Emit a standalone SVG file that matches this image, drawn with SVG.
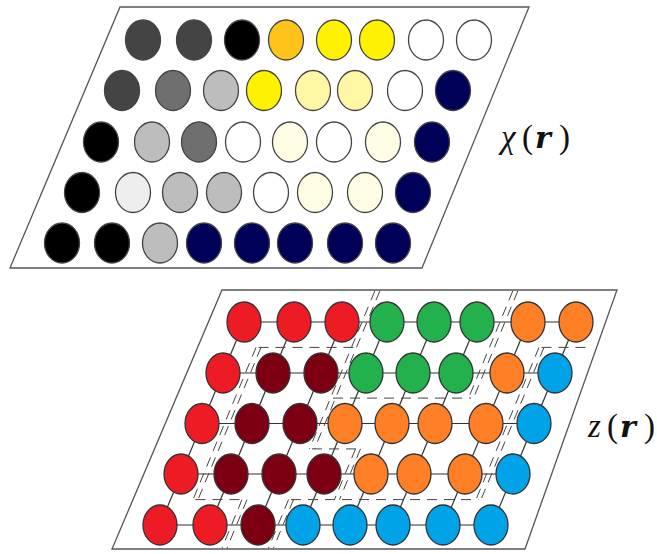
<svg xmlns="http://www.w3.org/2000/svg" width="657" height="554" viewBox="0 0 657 554">
<style>
.frame{fill:#fff;stroke:#555;stroke-width:1.3}
.c{stroke:#333;stroke-width:1.3}
.t{stroke:#444;stroke-width:1.3}
.lat{stroke:#333;stroke-width:1.2;fill:none}
.dash{stroke:#444;stroke-width:1;stroke-dasharray:10 7;fill:none}
.dg{fill:#444}.bk{fill:#000}.or{fill:#FFC31A}.ye{fill:#FFF200}.ly{fill:#FFF7A6}.vly{fill:#FFFDE3}
.wh{fill:#fff}.nv{fill:#000058}.mg{fill:#6F6F6F}.lg{fill:#BDBDBD}.vlg{fill:#EEEEEE}
.rd{fill:#ED1C24}.dr{fill:#7D0012}.gr{fill:#22B14C}.og{fill:#FF7F27}.bl{fill:#00A2E8}
.lbl{font-family:"Liberation Serif",serif;font-size:33px;fill:#111}
.br{font-family:"DejaVu Serif","Liberation Serif",serif;font-weight:bold;font-style:italic;font-size:30px}
</style>
<rect width="657" height="554" fill="#fff"/>
<g id="frame-top"><polygon class="frame" points="120,7 529,7 422,268 10,268"/></g>
<g id="frame-bottom"><polygon class="frame" points="222,290 617,290 525,549 112,549"/></g>

<g id="connectors">
<g id="lattice">
<line class="lat" x1="244" y1="322" x2="576" y2="322"/>
<line class="lat" x1="223" y1="373" x2="555" y2="373"/>
<line class="lat" x1="202" y1="423.5" x2="534" y2="423.5"/>
<line class="lat" x1="181" y1="474" x2="513" y2="474"/>
<line class="lat" x1="160" y1="525" x2="492" y2="525"/>
<line class="lat" x1="244" y1="322" x2="160" y2="525"/>
<line class="lat" x1="294" y1="322" x2="210" y2="525"/>
<line class="lat" x1="342" y1="322" x2="258" y2="525"/>
<line class="lat" x1="387" y1="322" x2="303" y2="525"/>
<line class="lat" x1="434" y1="322" x2="350" y2="525"/>
<line class="lat" x1="477" y1="322" x2="393" y2="525"/>
<line class="lat" x1="528" y1="322" x2="444" y2="525"/>
<line class="lat" x1="576" y1="322" x2="492" y2="525"/>
</g>
<g id="boundaries">
<line class="dash" x1="374.8" y1="291" x2="309.5" y2="448.9"/>
<line class="dash" x1="379.8" y1="291" x2="314.5" y2="448.9"/>
<line class="dash" x1="355.5" y1="448.9" x2="334.5" y2="499.6"/>
<line class="dash" x1="360.5" y1="448.9" x2="339.5" y2="499.6"/>
<line class="dash" x1="288.5" y1="499.6" x2="268.5" y2="548"/>
<line class="dash" x1="293.5" y1="499.6" x2="273.5" y2="548"/>
<line class="dash" x1="512.8" y1="291" x2="468.5" y2="398.1"/>
<line class="dash" x1="517.8" y1="291" x2="473.5" y2="398.1"/>
<line class="dash" x1="539" y1="347.4" x2="476" y2="499.6"/>
<line class="dash" x1="544" y1="347.4" x2="481" y2="499.6"/>
<line class="dash" x1="256" y1="347.4" x2="193" y2="499.6"/>
<line class="dash" x1="261" y1="347.4" x2="198" y2="499.6"/>
<line class="dash" x1="242" y1="499.6" x2="222" y2="548"/>
<line class="dash" x1="247" y1="499.6" x2="227" y2="548"/>
<line class="dash" x1="258.5" y1="347.4" x2="354" y2="347.4"/>
<line class="dash" x1="541.5" y1="347.4" x2="591" y2="347.4"/>
<line class="dash" x1="333" y1="398.1" x2="471" y2="398.1"/>
<line class="dash" x1="312" y1="448.9" x2="358" y2="448.9"/>
<line class="dash" x1="195.5" y1="499.6" x2="244.5" y2="499.6"/>
<line class="dash" x1="291" y1="499.6" x2="478.5" y2="499.6"/>
</g>
</g>

<g id="chi-nodes">
<g id="t00"><ellipse class="t dg" cx="143" cy="40" rx="17.5" ry="20"/></g>
<g id="t01"><ellipse class="t dg" cx="194" cy="40" rx="17.5" ry="20"/></g>
<g id="t02"><ellipse class="t bk" cx="242" cy="40" rx="17.5" ry="20"/></g>
<g id="t03"><ellipse class="t or" cx="286" cy="40" rx="17.5" ry="20"/></g>
<g id="t04"><ellipse class="t ye" cx="334" cy="40" rx="17.5" ry="20"/></g>
<g id="t05"><ellipse class="t ye" cx="377" cy="40" rx="17.5" ry="20"/></g>
<g id="t06"><ellipse class="t wh" cx="426" cy="40" rx="17.5" ry="20"/></g>
<g id="t07"><ellipse class="t wh" cx="474" cy="40" rx="17.5" ry="20"/></g>
<g id="t10"><ellipse class="t dg" cx="122" cy="90.5" rx="17.5" ry="20"/></g>
<g id="t11"><ellipse class="t mg" cx="173" cy="90.5" rx="17.5" ry="20"/></g>
<g id="t12"><ellipse class="t lg" cx="221" cy="90.5" rx="17.5" ry="20"/></g>
<g id="t13"><ellipse class="t ye" cx="264" cy="90.5" rx="17.5" ry="20"/></g>
<g id="t14"><ellipse class="t ly" cx="313" cy="90.5" rx="17.5" ry="20"/></g>
<g id="t15"><ellipse class="t ly" cx="355" cy="90.5" rx="17.5" ry="20"/></g>
<g id="t16"><ellipse class="t wh" cx="405" cy="90.5" rx="17.5" ry="20"/></g>
<g id="t17"><ellipse class="t nv" cx="453" cy="90.5" rx="17.5" ry="20"/></g>
<g id="t20"><ellipse class="t bk" cx="101" cy="142" rx="17.5" ry="20"/></g>
<g id="t21"><ellipse class="t lg" cx="152" cy="142" rx="17.5" ry="20"/></g>
<g id="t22"><ellipse class="t mg" cx="199" cy="142" rx="17.5" ry="20"/></g>
<g id="t23"><ellipse class="t wh" cx="243" cy="142" rx="17.5" ry="20"/></g>
<g id="t24"><ellipse class="t vly" cx="290" cy="142" rx="17.5" ry="20"/></g>
<g id="t25"><ellipse class="t wh" cx="334" cy="142" rx="17.5" ry="20"/></g>
<g id="t26"><ellipse class="t vly" cx="383" cy="142" rx="17.5" ry="20"/></g>
<g id="t27"><ellipse class="t nv" cx="432" cy="142" rx="17.5" ry="20"/></g>
<g id="t30"><ellipse class="t bk" cx="82" cy="192.5" rx="17.5" ry="20"/></g>
<g id="t31"><ellipse class="t vlg" cx="133" cy="192.5" rx="17.5" ry="20"/></g>
<g id="t32"><ellipse class="t lg" cx="180" cy="192.5" rx="17.5" ry="20"/></g>
<g id="t33"><ellipse class="t lg" cx="224" cy="192.5" rx="17.5" ry="20"/></g>
<g id="t34"><ellipse class="t wh" cx="271" cy="192.5" rx="17.5" ry="20"/></g>
<g id="t35"><ellipse class="t vly" cx="315" cy="192.5" rx="17.5" ry="20"/></g>
<g id="t36"><ellipse class="t vly" cx="365" cy="192.5" rx="17.5" ry="20"/></g>
<g id="t37"><ellipse class="t nv" cx="413" cy="192.5" rx="17.5" ry="20"/></g>
<g id="t40"><ellipse class="t bk" cx="62" cy="243" rx="17.5" ry="20"/></g>
<g id="t41"><ellipse class="t bk" cx="112" cy="243" rx="17.5" ry="20"/></g>
<g id="t42"><ellipse class="t lg" cx="160" cy="243" rx="17.5" ry="20"/></g>
<g id="t43"><ellipse class="t nv" cx="204" cy="243" rx="17.5" ry="20"/></g>
<g id="t44"><ellipse class="t nv" cx="252" cy="243" rx="17.5" ry="20"/></g>
<g id="t45"><ellipse class="t nv" cx="295" cy="243" rx="17.5" ry="20"/></g>
<g id="t46"><ellipse class="t nv" cx="345" cy="243" rx="17.5" ry="20"/></g>
<g id="t47"><ellipse class="t nv" cx="393" cy="243" rx="17.5" ry="20"/></g>
</g>

<g id="z-nodes">
<g id="b00"><ellipse class="c rd" cx="244" cy="322" rx="17" ry="20"/></g>
<g id="b01"><ellipse class="c rd" cx="294" cy="322" rx="17" ry="20"/></g>
<g id="b02"><ellipse class="c rd" cx="342" cy="322" rx="17" ry="20"/></g>
<g id="b03"><ellipse class="c gr" cx="387" cy="322" rx="17" ry="20"/></g>
<g id="b04"><ellipse class="c gr" cx="434" cy="322" rx="17" ry="20"/></g>
<g id="b05"><ellipse class="c gr" cx="477" cy="322" rx="17" ry="20"/></g>
<g id="b06"><ellipse class="c og" cx="528" cy="322" rx="17" ry="20"/></g>
<g id="b07"><ellipse class="c og" cx="576" cy="322" rx="17" ry="20"/></g>
<g id="b10"><ellipse class="c rd" cx="223" cy="373" rx="17" ry="20"/></g>
<g id="b11"><ellipse class="c dr" cx="273" cy="373" rx="17" ry="20"/></g>
<g id="b12"><ellipse class="c dr" cx="321" cy="373" rx="17" ry="20"/></g>
<g id="b13"><ellipse class="c gr" cx="366" cy="373" rx="17" ry="20"/></g>
<g id="b14"><ellipse class="c gr" cx="413" cy="373" rx="17" ry="20"/></g>
<g id="b15"><ellipse class="c gr" cx="456" cy="373" rx="17" ry="20"/></g>
<g id="b16"><ellipse class="c og" cx="507" cy="373" rx="17" ry="20"/></g>
<g id="b17"><ellipse class="c bl" cx="555" cy="373" rx="17" ry="20"/></g>
<g id="b20"><ellipse class="c rd" cx="202" cy="423.5" rx="17" ry="20"/></g>
<g id="b21"><ellipse class="c dr" cx="252" cy="423.5" rx="17" ry="20"/></g>
<g id="b22"><ellipse class="c dr" cx="300" cy="423.5" rx="17" ry="20"/></g>
<g id="b23"><ellipse class="c og" cx="345" cy="423.5" rx="17" ry="20"/></g>
<g id="b24"><ellipse class="c og" cx="392" cy="423.5" rx="17" ry="20"/></g>
<g id="b25"><ellipse class="c og" cx="435" cy="423.5" rx="17" ry="20"/></g>
<g id="b26"><ellipse class="c og" cx="486" cy="423.5" rx="17" ry="20"/></g>
<g id="b27"><ellipse class="c bl" cx="534" cy="423.5" rx="17" ry="20"/></g>
<g id="b30"><ellipse class="c rd" cx="181" cy="474" rx="17" ry="20"/></g>
<g id="b31"><ellipse class="c dr" cx="231" cy="474" rx="17" ry="20"/></g>
<g id="b32"><ellipse class="c dr" cx="279" cy="474" rx="17" ry="20"/></g>
<g id="b33"><ellipse class="c dr" cx="324" cy="474" rx="17" ry="20"/></g>
<g id="b34"><ellipse class="c og" cx="371" cy="474" rx="17" ry="20"/></g>
<g id="b35"><ellipse class="c og" cx="414" cy="474" rx="17" ry="20"/></g>
<g id="b36"><ellipse class="c og" cx="465" cy="474" rx="17" ry="20"/></g>
<g id="b37"><ellipse class="c bl" cx="513" cy="474" rx="17" ry="20"/></g>
<g id="b40"><ellipse class="c rd" cx="160" cy="525" rx="17" ry="20"/></g>
<g id="b41"><ellipse class="c rd" cx="210" cy="525" rx="17" ry="20"/></g>
<g id="b42"><ellipse class="c dr" cx="258" cy="525" rx="17" ry="20"/></g>
<g id="b43"><ellipse class="c bl" cx="303" cy="525" rx="17" ry="20"/></g>
<g id="b44"><ellipse class="c bl" cx="350" cy="525" rx="17" ry="20"/></g>
<g id="b45"><ellipse class="c bl" cx="393" cy="525" rx="17" ry="20"/></g>
<g id="b46"><ellipse class="c bl" cx="443" cy="525" rx="17" ry="20"/></g>
<g id="b47"><ellipse class="c bl" cx="491" cy="525" rx="17" ry="20"/></g>
</g>

<g id="labels">
<text class="lbl" y="148"><tspan x="501" font-style="italic">χ</tspan><tspan x="522">(</tspan><tspan class="br" x="535">r</tspan><tspan x="559">)</tspan></text>
<text class="lbl" y="437"><tspan x="588" font-style="italic">z</tspan><tspan x="607">(</tspan><tspan class="br" x="620">r</tspan><tspan x="644">)</tspan></text>
</g>
</svg>
